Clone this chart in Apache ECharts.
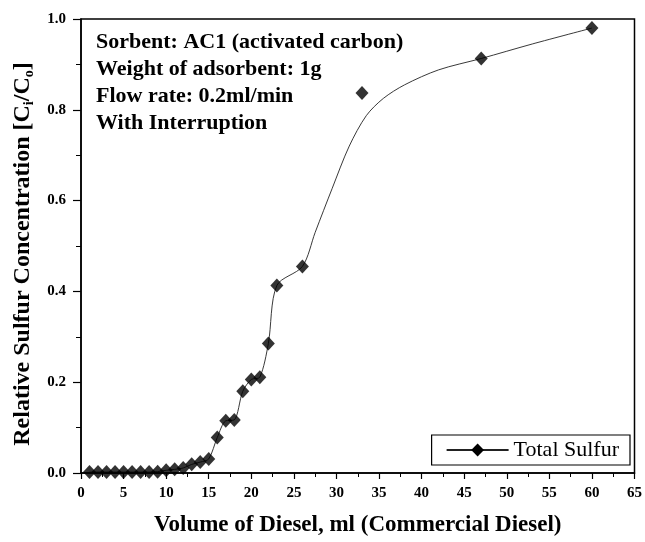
<!DOCTYPE html>
<html>
<head>
<meta charset="UTF-8">
<title>Total Sulfur breakthrough</title>
<script src="https://cdn.jsdelivr.net/npm/echarts@6/dist/echarts.min.js"></script>
<style>
    html, body { margin: 0; padding: 0; background: #fff; }
    #chart { width: 645px; height: 542px; }
</style>
</head>
<body>
<div id="chart"></div>
<script>
    // measured points (ml, Ci/Co)
    const volume = [1, 2, 3, 4, 5, 6, 7, 8, 9, 10, 11, 12, 13, 14, 15, 16, 17, 18, 19, 20, 21, 22, 23, 26, 33, 47, 60];
    const sulfur = [0.002, 0.002, 0.002, 0.002, 0.002, 0.002, 0.002, 0.002, 0.003, 0.006, 0.008, 0.011, 0.019, 0.024, 0.031,
        0.078, 0.115, 0.117, 0.180, 0.206, 0.211, 0.285, 0.413, 0.455, 0.837, 0.913, 0.980];

    // fitted curve after 26 ml (it misses the 33 ml point)
    const fitVolume = [27.5, 29.5, 31.5, 33.5, 35.5, 38, 42, 47, 53, 60];
    const fitSulfur = [0.530, 0.627, 0.720, 0.787, 0.825, 0.855, 0.888, 0.913, 0.945, 0.980];

    const noteLines = ['Sorbent: AC1 (activated carbon)', 'Weight of adsorbent: 1g', 'Flow rate: 0.2ml/min', 'With Interruption'];

    const serif = 'Liberation Serif';

    const points = volume.map((v, i) => [v, sulfur[i]]);
    const curve = points.filter(p => p[0] <= 26).concat(fitVolume.map((v, i) => [v, fitSulfur[i]]));

    const chart = echarts.init(document.getElementById('chart'));

    const option = {
        animation: false,
        grid: {
            left: 81, right: 9, top: 19, bottom: 64,
            show: true, borderColor: '#000', borderWidth: 1.5
        },
        legend: {
            data: ['Total Sulfur'],
            right: 15, top: 435,
            padding: [4, 11, 4, 14],
            borderColor: '#000', borderWidth: 1.2,
            itemWidth: 62, itemHeight: 16, itemGap: 8,
            textStyle: { fontFamily: serif, fontSize: 22, color: '#000' }
        },
        graphic: [{
            type: 'text',
            left: 96, top: 29,
            style: {
                text: noteLines.join('\n'),
                fontFamily: serif, fontWeight: 'bold', fontSize: 22,
                lineHeight: 27, fill: '#000'
            }
        }],
        xAxis: {
            type: 'value', min: 0, max: 65, interval: 5,
            name: 'Volume of Diesel, ml (Commercial Diesel)',
            nameLocation: 'middle', nameGap: 41,
            nameTextStyle: { fontFamily: serif, fontWeight: 'bold', fontSize: 23, color: '#000' },
            axisLine: { lineStyle: { color: '#000', width: 1.5 } },
            axisTick: { length: 6, lineStyle: { color: '#000', width: 1.2 } },
            minorTick: { show: true, splitNumber: 2, length: 4, lineStyle: { color: '#000', width: 1 } },
            axisLabel: { margin: 13, fontFamily: serif, fontWeight: 'bold', fontSize: 15, color: '#000' },
            splitLine: { show: false }
        },
        yAxis: {
            type: 'value', min: 0, max: 1, interval: 0.2,
            name: 'Relative Sulfur Concentration [C{sub|i}/C{sub|o}]',
            nameLocation: 'middle', nameGap: 40,
            nameTextStyle: {
                fontFamily: serif, fontWeight: 'bold', fontSize: 24, color: '#000',
                padding: [0, 16, 0, 0],
                rich: {
                    sub: { fontFamily: serif, fontWeight: 'bold', fontSize: 14, color: '#000', verticalAlign: 'bottom', padding: [13, 0, 0, 0] }
                }
            },
            axisLine: { lineStyle: { color: '#000', width: 1.5 } },
            axisTick: { length: 8, lineStyle: { color: '#000', width: 1.2 } },
            minorTick: { show: true, splitNumber: 2, length: 5, lineStyle: { color: '#000', width: 1 } },
            axisLabel: {
                margin: 15, fontFamily: serif, fontWeight: 'bold', fontSize: 15, color: '#000',
                formatter: v => v.toFixed(1)
            },
            splitLine: { show: false }
        },
        series: [{
            name: 'Total Sulfur',
            type: 'line',
            data: curve,
            smooth: 0.3,
            showSymbol: false,
            symbol: 'diamond',
            symbolSize: 14,
            itemStyle: { color: '#000' },
            lineStyle: { color: '#222', width: 0.9 },
            z: 2
        }, {
            name: 'points',
            type: 'scatter',
            data: points,
            symbol: 'diamond',
            symbolSize: [13, 14],
            itemStyle: { color: '#000' },
            z: 3
        }]
    };

    chart.setOption(option);
</script>
</body>
</html>
